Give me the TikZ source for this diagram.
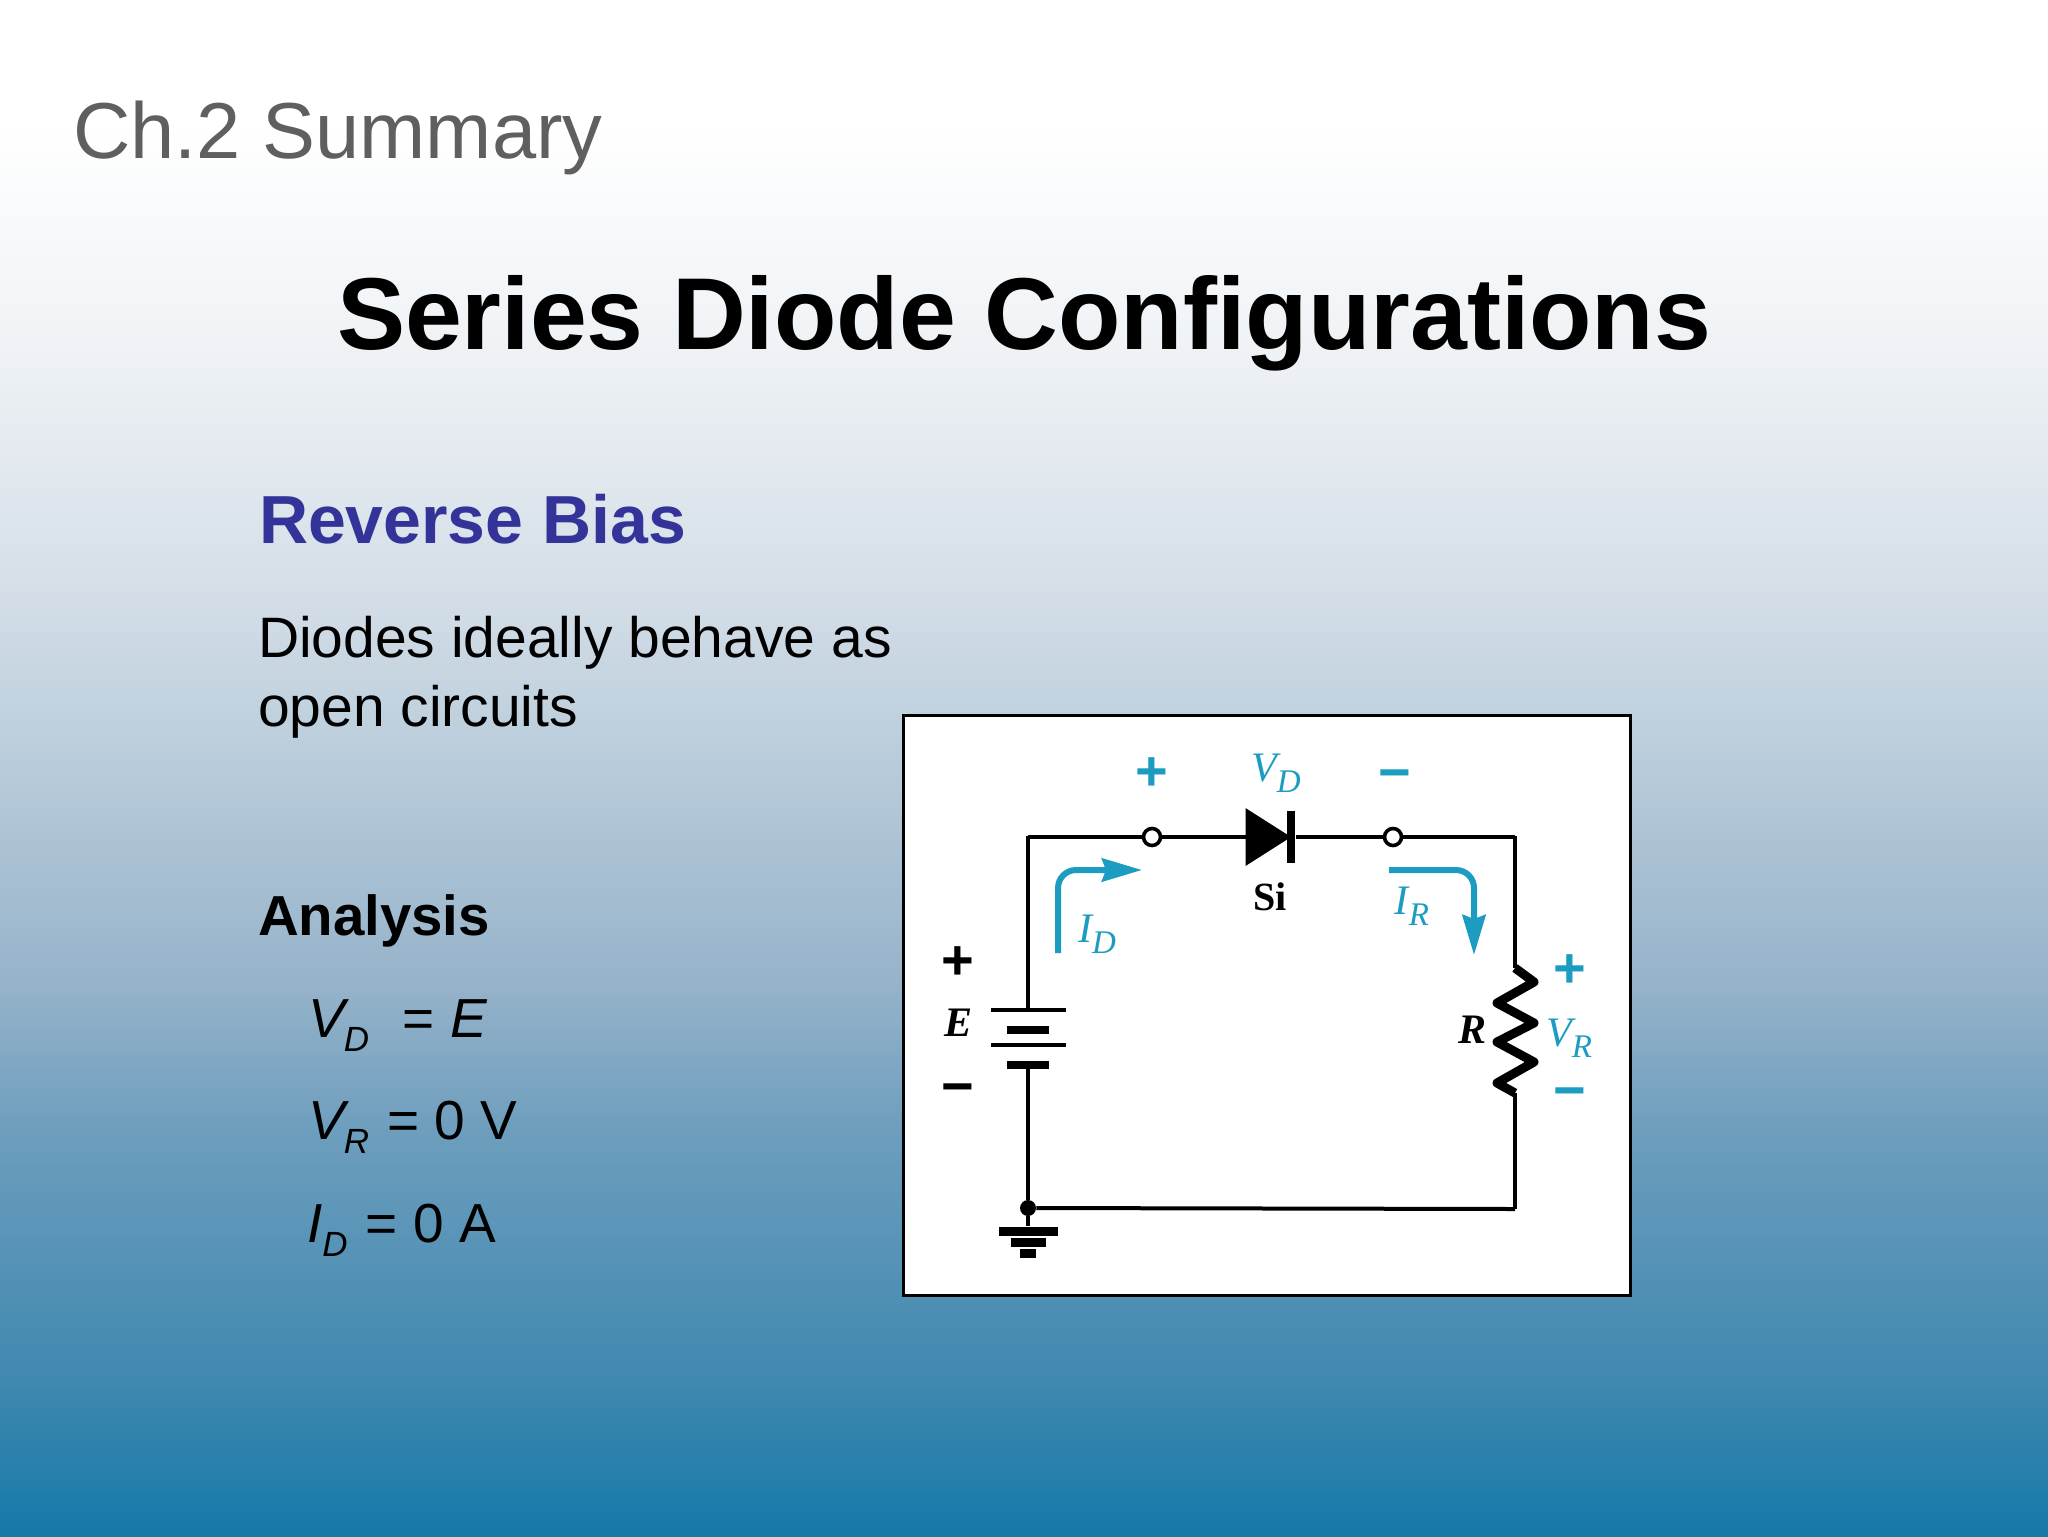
\documentclass[tikz,border=0pt]{standalone}
\usepackage{fontspec}
\setmainfont{Liberation Sans}
\newfontfamily\circuitfont{Liberation Serif}
\usetikzlibrary{arrows.meta,positioning}
\definecolor{bgA}{HTML}{FFFFFF}
\definecolor{bgB}{HTML}{F0F3F6}
\definecolor{bgC}{HTML}{D5DFE8}
\definecolor{bgD}{HTML}{B8CBDA}
\definecolor{bgE}{HTML}{96B3CA}
\definecolor{bgF}{HTML}{6C9DBD}
\definecolor{bgG}{HTML}{3F88AF}
\definecolor{bgH}{HTML}{1579A9}
\definecolor{cyanlabel}{HTML}{1B9CC0}
\definecolor{headblue}{HTML}{333399}
\definecolor{chgrey}{HTML}{5F5F5F}
\pgfdeclareverticalshading{slidefade}{100bp}{color(0bp)=(bgH); color(25bp)=(bgH); color(30bp)=(bgG);
  color(38bp)=(bgF); color(43bp)=(bgE); color(50bp)=(bgD); color(56bp)=(bgC);
  color(64bp)=(bgB); color(71bp)=(bgA); color(100bp)=(bgA)}
\tikzset{
  txt/.style={anchor=base west, inner sep=0pt, outer sep=0pt},
  wire/.style={draw=black, line width=2pt},
  plate/.style={fill=black, inner sep=0pt, minimum height=#1},
  term/.style={circle, draw=black, fill=white, line width=1.8pt, inner sep=0pt, minimum size=8.5pt},
  sign/.style={inner sep=0pt, font=\fontsize{28}{28}\selectfont\bfseries},
  clabel/.style={inner sep=0pt, text=cyanlabel, font=\circuitfont\itshape},
  blabel/.style={inner sep=0pt, font=\circuitfont\itshape\bfseries\fontsize{21}{21}\selectfont},
  current/.style={draw=cyanlabel, line width=3pt, rounded corners=9pt,
    -{Stealth[length=20pt,width=11.5pt,inset=2pt]}}
}
\newcommand{\eqvar}[3]{\textit{#2}\kern#1\relax\raisebox{-7pt}{\fontsize{17.5}{18}\selectfont\textit{#3}}\kern1.5pt\relax}
\newcommand{\cvar}[2]{{\fontsize{21}{21}\selectfont #1}\raisebox{-5.5pt}{\fontsize{16.5}{17}\selectfont #2}}
\begin{document}
\begin{tikzpicture}[x=0.5pt, y=-0.5pt]
    \useasboundingbox (0,0) rectangle (2048,1536);
    \shade[shading=slidefade] (0,0) rectangle (2048,1536);

    % slide text
    \node[txt, text=chgrey, font=\fontsize{39.7}{40}\selectfont] (chapter) at (73,158) {Ch.2 Summary};
    \node[txt, font=\fontsize{51.1}{51}\selectfont\bfseries] (title) at (337,349) {Series Diode Configurations};
    \node[txt, text=headblue, font=\fontsize{34}{34}\selectfont\bfseries] (bias) at (259,543) {Reverse Bias};
    \node[txt, font=\fontsize{28.5}{29}\selectfont] (line1) at (258,657.5) {Diodes ideally behave as};
    \node[txt, font=\fontsize{28.5}{29}\selectfont] (line2) at (258,726) {open circuits};
    \node[txt, font=\fontsize{28.2}{28}\selectfont\bfseries] (analysis) at (258,935) {Analysis};
    \node[txt, font=\fontsize{27.5}{28}\selectfont] (eqVD) at (308,1037) {\eqvar{-2.5pt}{V}{D}\ \ = \textit{E}};
    \node[txt, font=\fontsize{27.5}{28}\selectfont] (eqVR) at (308,1139) {\eqvar{-2.5pt}{V}{R} = 0 V};
    \node[txt, font=\fontsize{27.5}{28}\selectfont] (eqID) at (307,1242) {\eqvar{0pt}{I}{D} = 0 A};

    % schematic
    \node[draw=black, fill=white, line width=1.5pt, minimum width=363.5pt, minimum height=290pt,
          inner sep=0pt] (panel) at (1266.5,1005.5) {};

    \coordinate (LT) at (1028,837);
    \coordinate (RT) at (1515,837);
    \coordinate (RB) at (1515,1209);
    \coordinate (Rtop) at (1515,968);
    \coordinate (Rbot) at (1515,1093);

    \node[term] (T1) at (1152,837) {};
    \node[term] (T2) at (1393,837) {};
    \node[inner sep=0pt, minimum width=20pt, minimum height=28.5pt] (D1) at (1266,837) {};
    \node[plate=26pt, minimum width=4.4pt] (D2) at (1291,837) {};
    \fill (D1.north west) -- (D2.center) -- (D1.south west) -- cycle;

    \node[plate=2pt, minimum width=37.5pt] (B1) at (1028,1010) {};
    \node[plate=4pt, minimum width=21pt] (B2) [below=6.5pt of B1] {};
    \node[plate=2pt, minimum width=37.5pt] (B3) at (1028,1045) {};
    \node[plate=4pt, minimum width=21pt] (B4) [below=6.5pt of B3] {};
    \node[circle, fill=black, inner sep=0pt, minimum size=8pt] (J) at (1028,1208) {};
    \node[plate=4.5pt, minimum width=29.5pt] (G1) at (1028,1231) {};
    \node[plate=4.5pt, minimum width=17.5pt] (G2) at (1028,1242) {};
    \node[plate=4.5pt, minimum width=8pt] (G3) at (1028,1253) {};

    \path[wire] (LT) edge (T1)
          (T1) edge (D1.west)
          (D2) edge (T2)
          (T2) edge (RT)
          (RT) edge (Rtop)
          (Rbot) edge (RB)
          (RB) edge (J)
          (B1) edge (LT)
          (B4) edge (J)
          (J) edge (G1);
    \draw[line width=2pt] (1028,835.5) -- (LT) (RT) -- (1515,835.5);
    \draw[line width=4.5pt, line join=round] (Rtop) -- (1534,982) -- (1497,1003) -- (1534,1023)
          -- (1497,1042) -- (1534,1062) -- (1497,1083) -- (Rbot);

    % currents
    \coordinate (ID0) at (1058,953);
    \coordinate (ID1) at (1058,870);
    \coordinate (ID2) at (1142,870);
    \coordinate (IR0) at (1389,870);
    \coordinate (IR1) at (1474,870);
    \coordinate (IR2) at (1474,955);
    \draw[current] (ID0) -- (ID1) -- (ID2);
    \draw[current] (IR0) -- (IR1) -- (IR2);

    % labels
    \node[sign, text=cyanlabel] (pD) at (1152,774) {+};
    \node[sign, text=cyanlabel] (mD) at (1395,781) {−};
    \node[sign] (pE) at (958,963) {+};
    \node[sign] (mE) at (958,1095) {−};
    \node[sign, text=cyanlabel] (pR) at (1570,971) {+};
    \node[sign, text=cyanlabel] (mR) at (1570,1099) {−};
    \node[clabel] (VD) at (1276,773) {\cvar{V}{D}};
    \node[clabel] (ID) at (1097,934) {\cvar{I}{D}};
    \node[clabel] (IR) at (1412,906) {\cvar{I}{R}};
    \node[clabel] (VR) at (1569,1038) {\cvar{V}{R}};
    \node[inner sep=0pt, font=\circuitfont\bfseries\fontsize{20}{20}\selectfont] (Si) at (1270,897) {Si};
    \node[blabel] (E) at (958,1023) {E};
    \node[blabel] (R) at (1472,1030) {R};
\end{tikzpicture}
\end{document}
